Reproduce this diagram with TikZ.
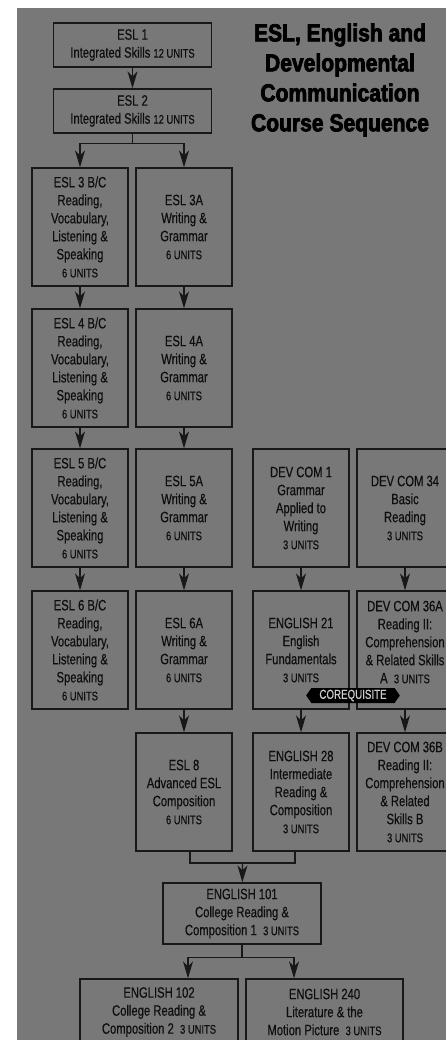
\documentclass[tikz,border=0pt]{standalone}
\usepackage{fontspec}
\usetikzlibrary{arrows.meta,shapes.symbols}
\newfontfamily\narrowsf[FakeStretch=0.75,FakeBold=0.4]{Liberation Sans}
\newfontfamily\titlesf[FakeStretch=0.86,FakeBold=3]{Liberation Sans Bold}
\definecolor{bggray}{RGB}{120,120,120}
\definecolor{boxline}{RGB}{24,24,24}
\definecolor{boxtext}{RGB}{14,14,14}
\definecolor{coreqtext}{RGB}{205,205,205}
\newcommand{\crsfont}{\narrowsf\fontsize{15}{18}\selectfont}
\newcommand{\crsunits}[1]{{\fontsize{12.5}{18}\selectfont #1 UNITS}}
\tikzstyle{every picture}=[x=1pt,y=-1pt,line width=1.3pt,>={Stealth[length=17pt,width=10pt,inset=5pt]}]
\tikzstyle{course}=[draw=boxline,inner sep=0pt,align=center,text=boxtext,font=\crsfont,minimum width=96pt,minimum height=118pt]
\tikzstyle{wide}=[course,minimum width=158pt,minimum height=44pt]
\tikzstyle{link}=[draw=boxline]

\begin{document}
\begin{tikzpicture}
            \useasboundingbox (0,0) rectangle (446,1040);
            \fill[bggray] (17,8) rectangle (446,1040);

            \node[font=\titlesf\fontsize{24.5}{30}\selectfont,align=center,text=black] (title) at (340,80)
                {ESL, English and\\Developmental\\Communication\\Course Sequence};

            \node[wide] (esl1) at (132.5,45) {ESL 1\\Integrated Skills \crsunits{12}};
            \node[wide] (esl2) at (132.5,111) {ESL 2\\Integrated Skills \crsunits{12}};

            \node[course] (esl3bc) at (80,227) {ESL 3 B/C\\Reading,\\Vocabulary,\\Listening \&\\Speaking\\\crsunits{6}};
            \node[course] (esl4bc) at (80,368) {ESL 4 B/C\\Reading,\\Vocabulary,\\Listening \&\\Speaking\\\crsunits{6}};
            \node[course] (esl5bc) at (80,508) {ESL 5 B/C\\Reading,\\Vocabulary,\\Listening \&\\Speaking\\\crsunits{6}};
            \node[course] (esl6bc) at (80,650) {ESL 6 B/C\\Reading,\\Vocabulary,\\Listening \&\\Speaking\\\crsunits{6}};

            \node[course] (esl3a) at (184,227) {ESL 3A\\Writing \&\\Grammar\\\crsunits{6}};
            \node[course] (esl4a) at (184,368) {ESL 4A\\Writing \&\\Grammar\\\crsunits{6}};
            \node[course] (esl5a) at (184,508) {ESL 5A\\Writing \&\\Grammar\\\crsunits{6}};
            \node[course] (esl6a) at (184,650) {ESL 6A\\Writing \&\\Grammar\\\crsunits{6}};
            \node[course] (esl8) at (184,792) {ESL 8\\Advanced ESL\\Composition\\\crsunits{6}};

            \node[course] (dc1) at (301,508) {DEV COM 1\\Grammar\\Applied to\\Writing\\\crsunits{3}};
            \node[course] (eng21) at (301,650) {ENGLISH 21\\English\\Fundamentals\\\crsunits{3}};
            \node[course] (eng28) at (301,792) {ENGLISH 28\\Intermediate\\Reading \&\\Composition\\\crsunits{3}};

            \node[course] (dc34) at (405,508) {DEV COM 34\\Basic\\Reading\\\crsunits{3}};
            \node[course] (dc36a) at (405,650) {DEV COM 36A\\Reading II:\\Comprehension\\\& Related Skills\\A\ \ \crsunits{3}\\[-2pt]\mbox{}};
            \node[course] (dc36b) at (405,792) {DEV COM 36B\\Reading II:\\Comprehension\\\& Related\\Skills B\\\crsunits{3}};

            \node[wide,minimum height=61pt] (eng101) at (242,913.5) {ENGLISH 101\\College Reading \&\\Composition 1\ \ \crsunits{3}};
            \node[wide,minimum height=66pt] (eng102) at (159,1012) {ENGLISH 102\\College Reading \&\\Composition 2\ \ \crsunits{3}};
            \node[wide,minimum width=157pt,minimum height=66pt] (eng240) at (324.5,1012) {ENGLISH 240\\Literature \& the\\Motion Picture\ \ \crsunits{3}};

            \node[signal,signal to=east and west,signal pointer angle=110,fill=black,text=coreqtext,
                font=\narrowsf\fontsize{13}{14}\selectfont,inner xsep=8pt,inner ysep=1pt,minimum height=15pt]
                (coreq) at (353,695.5) {COREQUISITE};

            \draw[->,link] (esl1) -- (esl2);
            \draw[link] (esl2.south) -- ++(0,10) coordinate (split1);
            \draw[->,link] (split1) -| (esl3bc.north);
            \draw[->,link] (split1) -| (esl3a.north);

            \draw[->,link] (esl3bc) -- (esl4bc);
            \draw[->,link] (esl4bc) -- (esl5bc);
            \draw[->,link] (esl5bc) -- (esl6bc);
            \draw[->,link] (esl3a) -- (esl4a);
            \draw[->,link] (esl4a) -- (esl5a);
            \draw[->,link] (esl5a) -- (esl6a);
            \draw[->,link] (esl6a) -- (esl8);

            \draw[->,link] (dc1) -- (eng21);
            \draw[->,link] (eng21) -- (eng28);
            \draw[->,link] (dc34) -- (dc36a);
            \draw[->,link] (dc36a) -- (dc36b);

            \coordinate (join1) at (242.5,863);
            \draw[link] ([xshift=6pt]esl8.south) |- (join1) -| ([xshift=-6pt]eng28.south);
            \draw[->,link] (join1) -- (eng101);

            \draw[link] (eng101.south) -- ++(0,13) coordinate (split2);
            \draw[->,link] (split2) -| ([xshift=29pt]eng102.north);
            \draw[->,link] (split2) -| ([xshift=-30.5pt]eng240.north);
        \end{tikzpicture}
\end{document}
